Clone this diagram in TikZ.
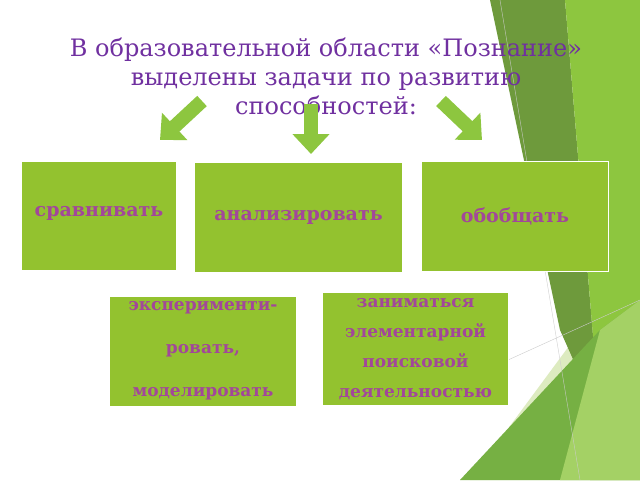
\documentclass[tikz,border=0pt]{standalone}
\usepackage{fontspec}
\setmainfont{DejaVu Serif}
\usetikzlibrary{arrows.meta}
\definecolor{boxgreen}{HTML}{93C22F}
\definecolor{darkgreen}{HTML}{6E9A3C}
\definecolor{lightgreen}{HTML}{8DC63F}
\definecolor{palegreen}{HTML}{DDEBC0}
\definecolor{midgreen}{HTML}{76B043}
\definecolor{titleviolet}{HTML}{7030A0}
\definecolor{boxtext}{HTML}{A2479A}
\tikzset{
  taskbox/.style={fill=boxgreen,draw=white,line width=1pt,inner sep=0pt,
    text=boxtext,font=\bfseries\fontsize{19}{26}\selectfont,align=center},
  bigarrow/.style={line width=14pt,
    -{Triangle[width=36pt,length=20pt]},color=lightgreen}
}
\begin{document}
\begin{tikzpicture}[x=1pt,y=1pt,yscale=-1]
\useasboundingbox (0,0) rectangle (640,480);
\fill[white] (0,0) rectangle (640,480);

% background shapes
\fill[palegreen] (470,480) -- (640,250) -- (640,480) -- cycle;
\fill[darkgreen] (490,0) -- (565,0) -- (600,420) -- (560,330) -- cycle;
\fill[lightgreen] (565,0) -- (640,0) -- (640,480) -- (590,480) -- (600,420) -- cycle;
\fill[midgreen] (460,480) -- (600,330) -- (640,300) -- (640,480) -- cycle;
\fill[lightgreen!80!white] (560,480) -- (600,330) -- (640,300) -- (640,480) -- cycle;
\draw[gray!40] (500,0) -- (580,480);
\draw[gray!40] (420,400) -- (640,300);

% title
\node (title) at (326,76) [text=titleviolet,font=\fontsize{24}{29}\selectfont,align=center]
  {В образовательной области «Познание»\\выделены задачи по развитию\\способностей:};

% arrows
\coordinate (al) at (202,101); \coordinate (ale) at (160,140);
\coordinate (am) at (311,104); \coordinate (ame) at (311,154);
\coordinate (ar) at (441,101); \coordinate (are) at (482,140);
\draw[bigarrow] (al) -- (ale);
\draw[bigarrow] (am) -- (ame);
\draw[bigarrow] (ar) -- (are);

% boxes
\node (compare) [taskbox,minimum width=155pt,minimum height=109pt] at (99,216) {};
\node at (99,213) [text=boxtext,font=\bfseries\fontsize{19}{22}\selectfont] {сравнивать};
\node (analyze) [taskbox,minimum width=208pt,minimum height=110pt] at (298.5,217) {анализировать};
\node (general) [taskbox,minimum width=187pt,minimum height=110pt] at (515,216) {обобщать};
\node (experiment) [taskbox,minimum width=187pt,minimum height=110pt,font=\bfseries\fontsize{17}{43}\selectfont] at (203,351)
  {эксперименти-\\ровать,\\моделировать};
\node (search) [taskbox,minimum width=186pt,minimum height=113pt,font=\bfseries\fontsize{17}{30}\selectfont] at (415.5,349)
  {заниматься\\элементарной\\поисковой\\деятельностью};
\end{tikzpicture}
\end{document}
